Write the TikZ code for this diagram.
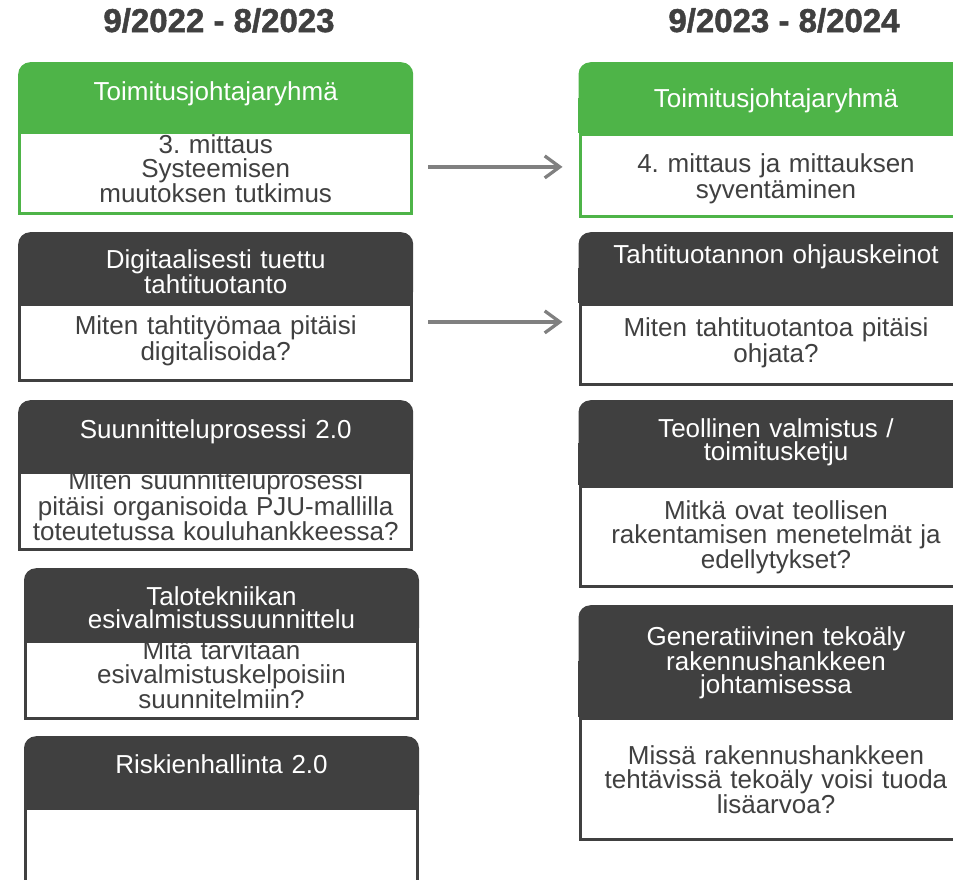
\documentclass[tikz,border=0pt]{standalone}
\usepackage{fontspec}
\setmainfont{Liberation Sans}
\newfontfamily\paksu{Liberation Sans Bold}[FakeBold=1.5]
\usetikzlibrary{arrows.meta,backgrounds}
\definecolor{vihrea}{RGB}{78,180,72}
\definecolor{tumma}{RGB}{64,64,64}
\definecolor{harmaa}{RGB}{128,128,128}
\frenchspacing

\begin{document}
\begin{tikzpicture}[x=1pt,y=1pt,
  otsikko/.style={font=\paksu\fontsize{33pt}{36pt}\selectfont, text=tumma, anchor=base, inner sep=0pt},
  hd/.style={fill=#1, rounded corners=12pt, text=white, anchor=north, inner sep=0pt, text width=395pt, align=center, font=\fontsize{26pt}{23.5pt}\selectfont},
  runko/.style={draw=#1, line width=3pt, fill=white, text=tumma, anchor=north, inner sep=0pt, text width=392pt, align=center, font=\fontsize{26pt}{23.5pt}\selectfont},
  nuoli/.style={draw=harmaa, line width=3.3pt, -{Straight Barb[length=15pt,width=22pt]}}]
\useasboundingbox (0,0) rectangle (953,-879);
\node[otsikko] (v1) at (219,-32) {9/2022 - 8/2023};
\node[otsikko] (v2) at (784,-32) {9/2023 - 8/2024};
\node[hd=vihrea, text height=38pt, text depth=31pt] (lh1) at (215.7,-62) {Toimitusjohtajaryhmä};
\node[runko=vihrea, text height=21pt, text depth=60pt] (lb1) at (lh1.south) {3. mittaus\\Systeemisen\\muutoksen tutkimus};
\node[hd=tumma, text height=36pt, text depth=35pt] (lh2) at (215.7,-232) {Digitaalisesti tuettu\\tahtituotanto};
\node[runko=tumma, text height=30pt, text depth=46pt] (lb2) at (lh2.south) {Miten tahtityömaa pitäisi\\digitalisoida?};
\node[hd=tumma, text height=38pt, text depth=33pt] (lh3) at (215.7,-400) {Suunnitteluprosessi 2.0};
\node[runko=tumma, text height=17pt, text depth=60pt] (lb3) at (lh3.south) {Miten suunnitteluprosessi\\pitäisi organisoida PJU-mallilla\\toteutetussa kouluhankkeessa?};
\node[hd=tumma, text height=37pt, text depth=35pt] (lh4) at (221.5,-568) {Talotekniikan\\esivalmistussuunnittelu};
\node[runko=tumma, text height=18pt, text depth=59pt] (lb4) at (lh4.south) {Mitä tarvitaan\\esivalmistuskelpoisiin\\suunnitelmiin?};
\node[hd=tumma, text height=37pt, text depth=34pt] (lh5) at (221.5,-736) {Riskienhallinta 2.0};
\node[runko=tumma, text height=0pt, text depth=100pt] (lb5) at (lh5.south) {};
\node[hd=vihrea, text height=45pt, text depth=26pt] (rh1) at (776,-62) {Toimitusjohtajaryhmä};
\node[runko=vihrea, text height=38pt, text depth=44pt] (rb1) at (rh1.south) {4. mittaus ja mittauksen\\syventäminen};
\node[hd=tumma, text height=31pt, text depth=40pt] (rh2) at (776,-232) {Tahtituotannon ohjauskeinot};
\node[runko=tumma, text height=32pt, text depth=48pt] (rb2) at (rh2.south) {Miten tahtituotantoa pitäisi\\ohjata?};
\node[hd=tumma, text height=37pt, text depth=48pt] (rh3) at (776,-400) {Teollinen valmistus /\\toimitusketju};
\node[runko=tumma, text height=33pt, text depth=67pt] (rb3) at (rh3.south) {Mitkä ovat teollisen\\rakentamisen menetelmät ja\\edellytykset?};
\node[hd=tumma, text height=40pt, text depth=72pt] (rh4) at (776,-605) {Generatiivinen tekoäly\\rakennushankkeen\\johtamisessa};
\node[runko=tumma, text height=46pt, text depth=75pt] (rb4) at (rh4.south) {Missä rakennushankkeen\\tehtävissä tekoäly voisi tuoda\\lisäarvoa?};
\begin{scope}[on background layer]
\foreach \h in {lh2,lh3,lh4,lh5,rh2,rh3,rh4}
  \fill[tumma] (\h.west) rectangle (\h.south east);
\foreach \h in {lh1,rh1}
  \fill[vihrea] (\h.west) rectangle (\h.south east);
\end{scope}
\draw[nuoli] ([xshift=15pt,yshift=6.5pt]lb1.east) -- ([xshift=-16pt,yshift=9pt]rb1.west);
\draw[nuoli] ([xshift=15pt,yshift=21pt]lb2.east) -- ([xshift=-16pt,yshift=23pt]rb2.west);
\end{tikzpicture}
\end{document}
